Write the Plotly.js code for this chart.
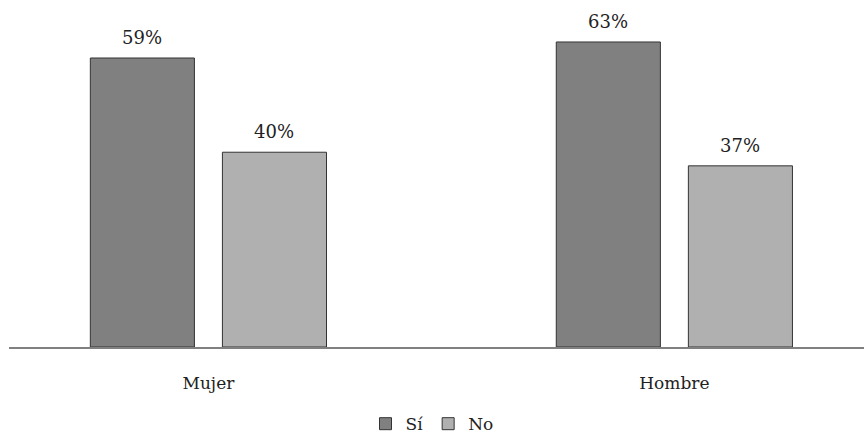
<!DOCTYPE html>
<html>
<head>
<meta charset="utf-8">
<script src="https://cdn.plot.ly/plotly-3.0.1.min.js"></script>
<style>html,body{margin:0;padding:0;background:#fff;}#chart{width:864px;height:435px;}</style>
</head>
<body>
<div id="chart"></div>
<script>
const categories = ["Mujer", "Hombre"];
const seriesNames = ["Sí", "No"];
const siValues = [59.5, 62.8];
const noValues = [40.1, 37.3];
const siLabels = ["59%", "63%"];
const noLabels = ["40%", "37%"];

const fontFam = 'DejaVu Serif';
const barColors = ['#808080', '#b0b0b0'];
const series = [siValues, noValues];
const labels = [siLabels, noLabels];

const traces = series.map((vals, i) => ({
  type: 'bar', name: seriesNames[i], x: categories, y: vals,
  marker: {color: barColors[i], line: {color: '#333333', width: 1}},
  hoverinfo: 'none'
}));

const annotations = [];
series.forEach((vals, i) => {
  vals.forEach((v, j) => {
    annotations.push({
      x: categories[j], y: v, xref: 'x', yref: 'y',
      text: labels[i][j], showarrow: false,
      xanchor: 'center', yanchor: 'bottom',
      xshift: i === 0 ? -66 : 66, yshift: 8,
      font: {family: fontFam, size: 18, color: '#222'}
    });
  });
});

const layout = {
  width: 864, height: 435,
  margin: {l: 9, r: 0, t: 7, b: 88},
  paper_bgcolor: '#fff', plot_bgcolor: '#fff',
  font: {family: fontFam, size: 17, color: '#222'},
  barmode: 'group', bargap: 0.433, bargroupgap: 0.212,
  xaxis: {
    type: 'category', range: [-0.428, 1.407],
    showline: true, linecolor: '#808080', linewidth: 2,
    ticks: '', showgrid: false, zeroline: false,
    ticklabelstandoff: 20,
    tickfont: {family: fontFam, size: 17, color: '#222'}
  },
  yaxis: {
    range: [0, 70], showgrid: false, zeroline: false,
    showticklabels: false, ticks: '', showline: false
  },
  annotations: annotations,
  showlegend: true,
  legend: {
    orientation: 'h', xref: 'container', yref: 'container',
    x: 0.5, xanchor: 'center', y: 0.025, yanchor: 'middle',
    font: {family: fontFam, size: 17, color: '#222'},
    itemwidth: 30, tracegroupgap: 0
  }
};
Plotly.newPlot('chart', traces, layout, {displayModeBar: false, staticPlot: true});
</script>
</body>
</html>
